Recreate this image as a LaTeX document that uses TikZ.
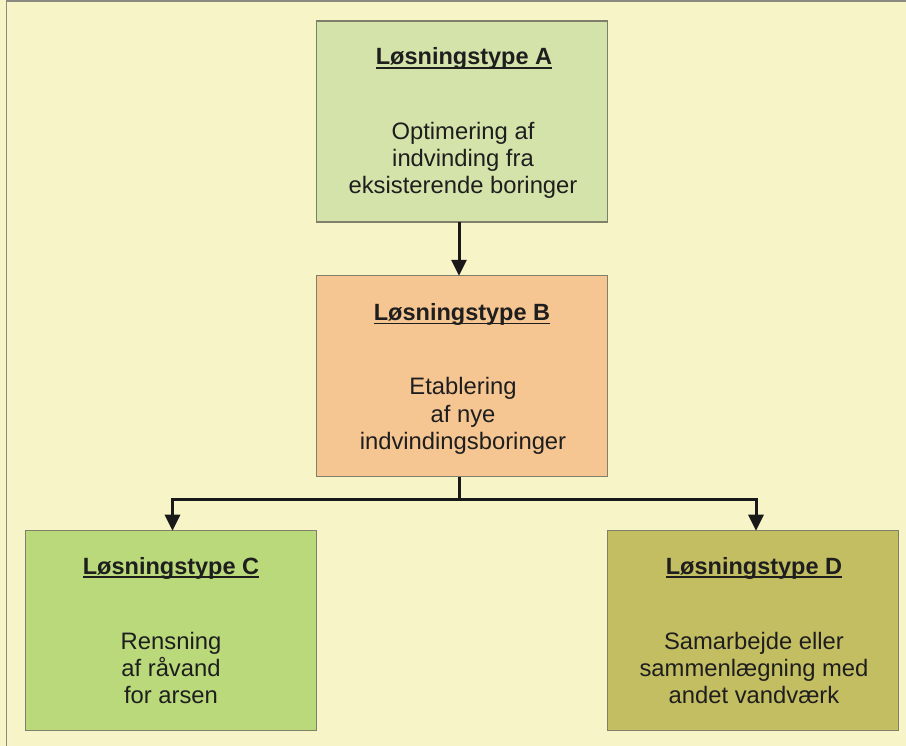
\documentclass[tikz,border=0pt]{standalone}
\usepackage{fontspec}
\setmainfont{Liberation Sans}
\usetikzlibrary{arrows.meta}
\definecolor{bgc}{HTML}{F7F4C7}
\definecolor{framec}{HTML}{8A8A80}
\definecolor{edgec}{HTML}{7F7F6A}
\definecolor{fa}{HTML}{D4E3A9}
\definecolor{fb}{HTML}{F5C592}
\definecolor{fc}{HTML}{B9D97A}
\definecolor{fd}{HTML}{C4BE62}
\definecolor{txt}{HTML}{1E1E1E}
\tikzset{
  boxshape/.style={draw=edgec, line width=1.3pt, minimum width=291pt, minimum height=200pt, inner sep=0pt, outer sep=0pt},
  titletext/.style={anchor=base, inner sep=0pt, text=txt, font=\fontsize{23.5}{27}\selectfont\bfseries},
  bodytext/.style={anchor=base, inner sep=0pt, text=txt, font=\fontsize{23.8}{27}\selectfont},
  conn/.style={line width=3pt, draw=black!90, -{Triangle[width=15pt,length=16pt]}},
  connplain/.style={line width=3pt, draw=black!90}
}
\newcommand{\ttl}[1]{\setbox0\hbox{#1}\rlap{\rule[-3.6pt]{\wd0}{1.6pt}}\box0}
\begin{document}
\begin{tikzpicture}[x=1pt,y=-1pt]
\useasboundingbox (0,0) rectangle (906,746);
\fill[bgc] (0,0) rectangle (906,746);
\draw[framec, line width=1.5pt] (6.5,746) -- (6.5,1.2) -- (906,1.2);
% boxes
\node[boxshape, fill=fa, minimum height=201pt] (A) at (462,121.5) {};
\node[boxshape, fill=fb, minimum height=201pt] (B) at (462,376.3) {};
\node[boxshape, fill=fc] (C) at (171,630.7) {};
\node[boxshape, fill=fd] (D) at (753.3,630.7) {};
% texts
\node[titletext] (At) at (464,65) {\ttl{Løsningstype A}};
\node[bodytext] (A1) at (463,140) {Optimering af};
\node[bodytext] (A2) at (463,167) {indvinding fra};
\node[bodytext] (A3) at (463,194) {eksisterende boringer};
\node[titletext] (Bt) at (462,320.5) {\ttl{Løsningstype B}};
\node[bodytext] (B1) at (463,395) {Etablering};
\node[bodytext] (B2) at (463,422) {af nye};
\node[bodytext] (B3) at (463,449) {indvindingsboringer};
\node[titletext] (Ct) at (171,574) {\ttl{Løsningstype C}};
\node[bodytext] (C1) at (171,649) {Rensning};
\node[bodytext] (C2) at (171,676) {af råvand};
\node[bodytext] (C3) at (171,703) {for arsen};
\node[titletext] (Dt) at (754,574) {\ttl{Løsningstype D}};
\node[bodytext] (D1) at (754,649) {Samarbejde eller};
\node[bodytext] (D2) at (754,676) {sammenlægning med};
\node[bodytext] (D3) at (754,703) {andet vandværk};
% connectors
\coordinate (J) at (459,499.5);
\coordinate (JL) at (172.5,499.5);
\coordinate (JR) at (756,499.5);
\draw[conn] (A.south -| J) -- (B.north -| J);
\draw[connplain] (B.south -| J) -- (J);
\draw[connplain, line cap=rect] (JL) -- (JR);
\draw[conn] (JL) -- (C.north -| JL);
\draw[conn] (JR) -- (D.north -| JR);
\end{tikzpicture}
\end{document}
